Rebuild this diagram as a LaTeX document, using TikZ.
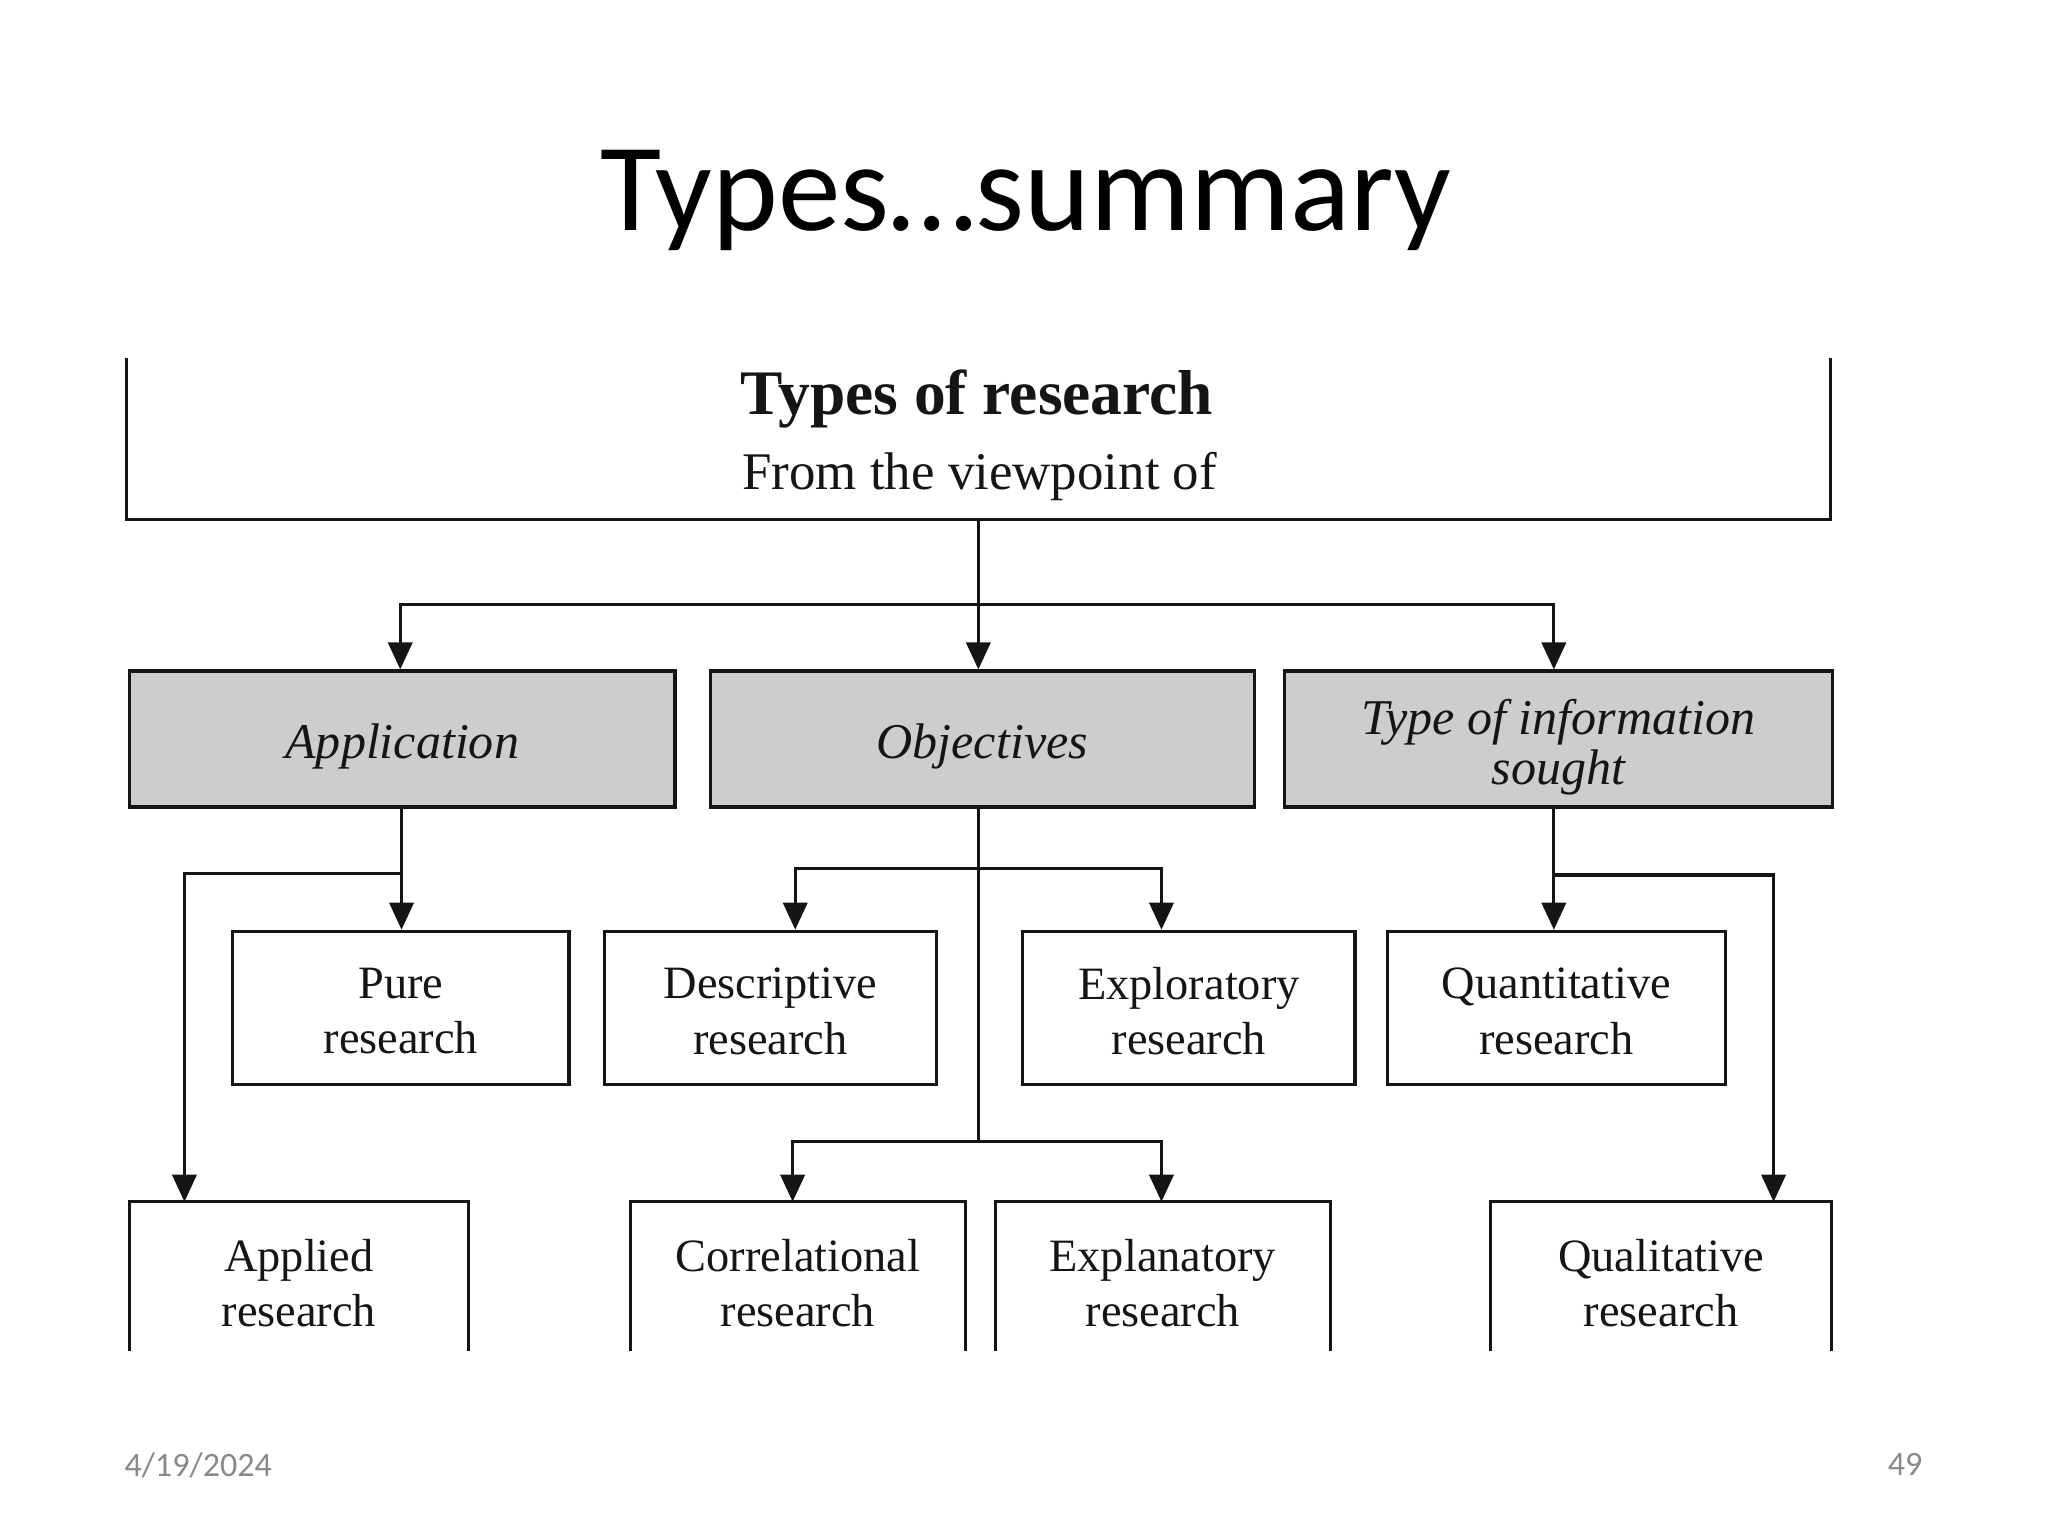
\documentclass[tikz,border=0pt]{standalone}
\usepackage{fontspec}
\setmainfont{Liberation Serif}
\newfontfamily\slidefont{Carlito}
\usetikzlibrary{arrows.meta}
\definecolor{footgray}{HTML}{898989}
\definecolor{boxgray}{HTML}{CDCDCD}
\definecolor{inkblack}{HTML}{151515}
\begin{document}
\begin{tikzpicture}[x=0.45984pt, y=-0.45984pt,
  line width=1.1pt, draw=inkblack,
  arr/.style={-{Triangle[length=9.5pt,width=8.5pt]}},
  graybox/.style={draw=inkblack, fill=boxgray, inner sep=0pt, minimum height=47.8pt},
  whitebox/.style={draw=inkblack, inner sep=0pt, minimum height=53.8pt},
  openbox/.style={inner sep=0pt, minimum height=51.5pt},
  gtext/.style={inner sep=0pt, font=\fontsize{17.6}{17.8}\selectfont\itshape, align=center, text=inkblack},
  btext/.style={inner sep=0pt, font=\fontsize{16.3}{19.5}\selectfont, align=center, text=inkblack},
  foot/.style={inner sep=0pt, font=\slidefont\fontsize{12}{14}\selectfont, text=footgray}
]
\useasboundingbox (0,0) rectangle (1565.8,1174.3);

% title
\node[anchor=base, inner sep=0pt, font=\slidefont\fontsize{44}{52}\selectfont] (title) at (784.4,176.6) {Types…summary};

% top box (open at the top)
\node[inner sep=0pt, minimum width=597.8pt, minimum height=55.6pt] (top) at (748,335.5) {};
\draw (top.north west) -- (top.south west) -- (top.south east) -- (top.north east);
\node[anchor=base, inner sep=0pt, font=\fontsize{22.3}{24}\selectfont\bfseries, text=inkblack] (t1) at (747,317) {Types of research};
\node[anchor=base, inner sep=0pt, font=\fontsize{18.6}{22}\selectfont, text=inkblack] (t2) at (749,374) {From the viewpoint of};

% viewpoint boxes
\node[graybox, minimum width=191.8pt] (app) at (307.5,565) {};
\node[graybox, minimum width=191.3pt] (obj) at (751,565) {};
\node[graybox, minimum width=192.7pt] (tis) at (1191.5,565) {};
\node[gtext] (appL) at ([yshift=-2.5pt]app.center) {Application};
\node[gtext] (objL) at ([yshift=-2.5pt]obj.center) {Objectives};
\node[gtext] (tisL) at ([yshift=-2.9pt]tis.center) {Type of information\\sought};

% middle row
\node[whitebox, minimum width=118.2pt] (pure) at (306.5,770.5) {};
\node[whitebox, minimum width=116.8pt] (desc) at (589,770.5) {};
\node[whitebox, minimum width=116.8pt] (expl) at (909,770.5) {};
\node[whitebox, minimum width=118.6pt] (quan) at (1190,770.5) {};
\node[btext] (pureL) at ([yshift=-1.2pt]pure.center) {Pure\\research};
\node[btext] (descL) at ([yshift=-1.2pt]desc.center) {Descriptive\\research};
\node[btext] (explL) at ([yshift=-1.2pt]expl.center) {Exploratory\\research};
\node[btext] (quanL) at ([yshift=-1.2pt]quan.center) {Quantitative\\research};

% bottom row (cut off at the bottom)
\node[openbox, minimum width=118.2pt] (applied) at (228.5,976) {};
\node[openbox, minimum width=116.8pt] (corr) at (610,976) {};
\node[openbox, minimum width=116.8pt] (expn) at (889,976) {};
\node[openbox, minimum width=118.6pt] (qual) at (1270,976) {};
\foreach \b in {applied,corr,expn,qual}{
  \draw (\b.south west) -- (\b.north west) -- (\b.north east) -- (\b.south east);
}
\node[btext] (appliedL) at ([yshift=-2.4pt]applied.center) {Applied\\research};
\node[btext] (corrL) at ([yshift=-2.4pt]corr.center) {Correlational\\research};
\node[btext] (expnL) at ([yshift=-2.4pt]expn.center) {Explanatory\\research};
\node[btext] (qualL) at ([yshift=-2.4pt]qual.center) {Qualitative\\research};

% junction coordinates
\coordinate (j1) at (748,462);
\coordinate (jA) at (307,668);
\coordinate (jO1) at (748,664);
\coordinate (jO2) at (748,873);
\coordinate (jT) at (1188,669);
\coordinate (xApp) at (306,0);
\coordinate (xTis) at (1188,0);
\coordinate (xAppl) at (141,0);
\coordinate (xDesc) at (608,0);
\coordinate (xExpl) at (888,0);
\coordinate (xCorr) at (606,0);
\coordinate (xQual) at (1356,0);

% connectors from the top box
\draw[arr] (top.south) -- (top.south |- obj.north);
\draw[arr] (j1) -| (app.north -| xApp);
\draw[arr] (j1) -| (tis.north -| xTis);

% application
\draw[arr] (app.south -| jA) -- (pure.north -| jA);
\draw[arr] (jA) -| (applied.north -| xAppl);

% objectives
\draw (obj.south -| jO2) -- (jO2);
\draw[arr] (jO1) -| (desc.north -| xDesc);
\draw[arr] (jO1) -| (expl.north -| xExpl);
\draw[arr] (jO2) -| (corr.north -| xCorr);
\draw[arr] (jO2) -| (expn.north -| xExpl);

% type of information sought
\draw[arr] (tis.south -| xTis) -- (quan.north -| xTis);
\draw[arr] (jT) -| (qual.north -| xQual);

% footer
\node[foot, anchor=base west] (date) at (94,1129.2) {4/19/2024};
\node[foot, anchor=base east] (page) at (1471,1128.4) {49};
\end{tikzpicture}
\end{document}
